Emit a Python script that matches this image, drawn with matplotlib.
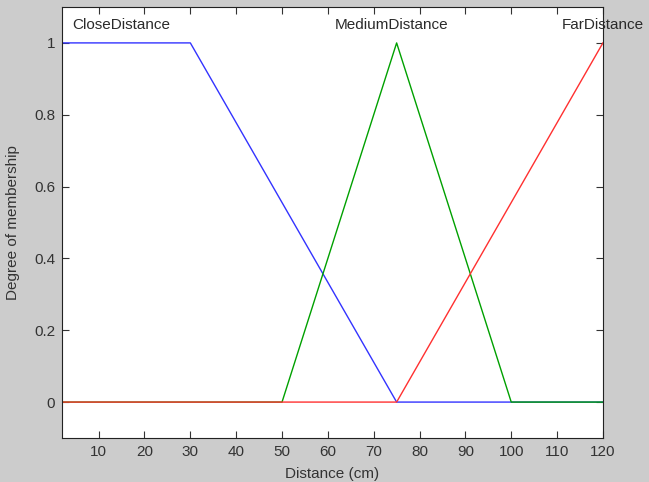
import numpy as np
import matplotlib.pyplot as plt

plt.rcParams['font.family'] = ['Liberation Sans', 'DejaVu Sans']

# membership functions (breakpoints)
close_x = [2, 30, 75, 120]
close_y = [1, 1, 0, 0]
medium_x = [2, 50, 75, 100, 120]
medium_y = [0, 0, 1, 0, 0]
far_x = [2, 75, 120]
far_y = [0, 0, 1]

mf_names = ['CloseDistance', 'MediumDistance', 'FarDistance']
label_x = [15, 74, 120]

xticks = [10, 20, 30, 40, 50, 60, 70, 80, 90, 100, 110, 120]
yticks = [0, 0.2, 0.4, 0.6, 0.8, 1]

fig = plt.figure(figsize=(6.49, 4.82), dpi=100, facecolor='#cccccc')
ax = fig.add_axes([0.0955, 0.0913, 0.8335, 0.8942])

ax.plot(close_x, close_y, color='#3333ff', lw=1)
ax.plot(medium_x, medium_y, color='#00a000', lw=1)
ax.plot(far_x, far_y, color='#ff3030', lw=1)

for name, lx in zip(mf_names, label_x):
    ax.text(lx, 1.05, name, ha='center', va='center', fontsize=11, color='#2a2a2a')

ax.set_xlim(2, 120)
ax.set_ylim(-0.1, 1.1)
ax.set_xticks(xticks)
ax.set_yticks(yticks)
ax.set_yticklabels(['0', '0.2', '0.4', '0.6', '0.8', '1'])
ax.tick_params(direction='in', top=True, right=True, labelsize=11,
               colors='#333333', length=5, pad=5)
for s in ax.spines.values():
    s.set_color('#222222')

ax.set_xlabel('Distance (cm)', fontsize=11, color='#333333', labelpad=6)
ax.set_ylabel('Degree of membership', fontsize=11, color='#333333', labelpad=10)

fig.savefig('out.png', dpi=100, facecolor=fig.get_facecolor())
